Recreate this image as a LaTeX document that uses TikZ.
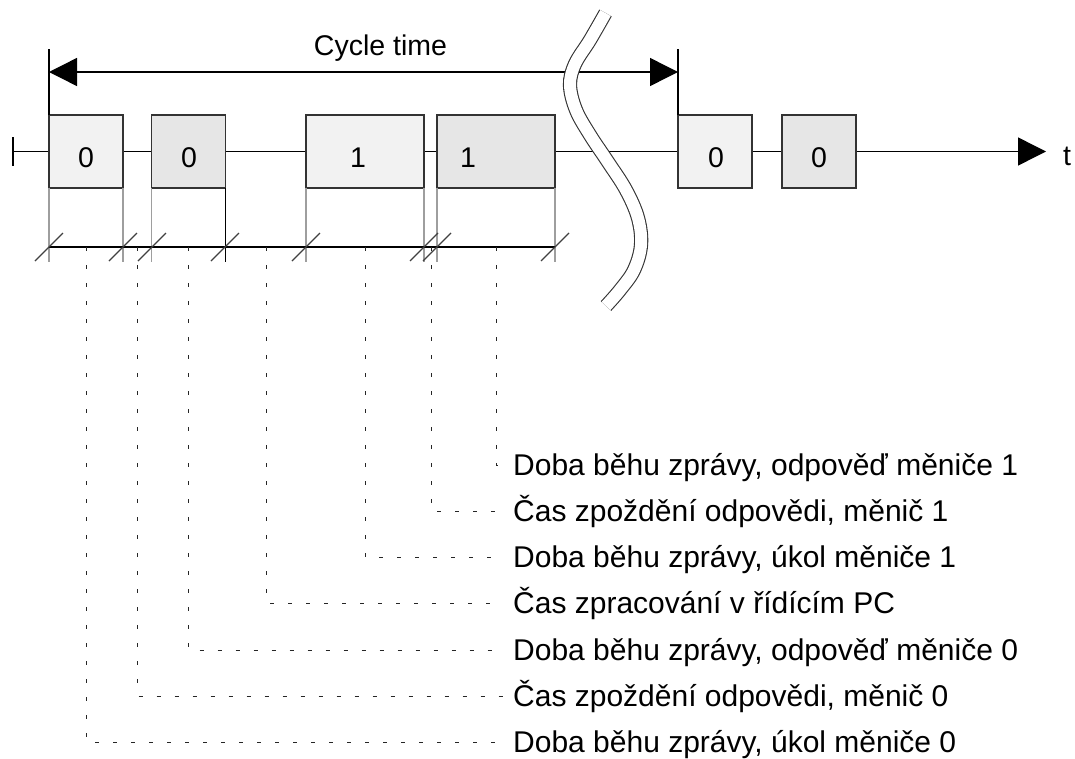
\documentclass[tikz,border=0pt]{standalone}
\usepackage{fontspec}
\setmainfont{Liberation Sans}
\usetikzlibrary{arrows.meta}
\definecolor{boxlight}{HTML}{F2F2F2}
\definecolor{boxdark}{HTML}{E6E6E6}
\definecolor{edge}{HTML}{333333}
\begin{document}
\begin{tikzpicture}[x=1pt,y=-1pt,
  frame/.style={draw=edge, line width=1.4pt, inner sep=0pt, outer sep=0pt, minimum height=73pt},
  short/.style={frame, minimum width=74pt},
  long/.style={frame, minimum width=118pt},
  light/.style={fill=boxlight},
  darker/.style={fill=boxdark},
  txt/.style={font=\fontsize{28.5}{34}\selectfont, inner sep=0pt},
  lbl/.style={font=\fontsize{30}{36}\selectfont, inner sep=0pt, anchor=base west},
  axis/.style={draw=black, line width=1.4pt},
  ext/.style={draw=black!38, line width=1.6pt},
  slash/.style={draw=black!75, line width=1.3pt},
  leader/.style={draw=black!85, line width=1pt, dash pattern=on 4pt off 14pt},
  breakline/.style={draw=black!80, line width=1.1pt, double=white, double distance=12pt},
]
\useasboundingbox (0,0) rectangle (1075,758);

% time axis with start mark and arrow
\coordinate (t0) at (13,151.5);
\coordinate (tend) at (1046,151.5);
\draw[axis,-{Triangle[length=28pt,width=28pt]}] (t0) -- (tend);
\draw[axis] (t0) ++(0,-14.5) -- ++(0,29);
\node[txt, anchor=base west] (tlabel) at (1063,165) {t};

% telegram boxes
\node[short, light]  (b1) at (86,151.5) {};
\node[short, darker] (b2) at (188.5,151.5) {};
\node[long, light]   (b3) at (365,151.5) {};
\node[long, darker]  (b4) at (496,151.5) {};
\node[short, light]  (b5) at (715,151.5) {};
\node[short, darker] (b6) at (819,151.5) {};

\node[txt, anchor=base] (n1) at (86,167) {0};
\node[txt, anchor=base] (n2) at (189,167) {0};
\node[txt, anchor=base] (n3) at (358,167) {1};
\node[txt, anchor=base] (n4) at (468,167) {1};
\node[txt, anchor=base] (n5) at (716,167) {0};
\node[txt, anchor=base] (n6) at (819,167) {0};

% cycle time dimension
\coordinate (cl) at (49,72);
\coordinate (cr) at (678,72);
\draw[axis] (49,49) -- (b1.north west);
\draw[axis] (678,49) -- (b5.north west);
\draw[axis,{Triangle[length=28pt,width=28pt]}-{Triangle[length=28pt,width=28pt]}] (cl) -- (cr);
\node[txt, anchor=base] (cyc) at (380.5,55) {Cycle time};

% extension lines below the boxes
\draw[ext] (b1.south west) -- ++(0,74);
\draw[ext] (b1.south east) -- ++(0,74);
\draw[ext] (b2.south west) -- ++(0,74);
\draw[axis, line width=1.2pt] (b2.south east) -- ++(0,74);
\draw[ext] (b3.south west) -- ++(0,74);
\draw[ext] (b3.south east) -- ++(0,74);
\draw[ext] (b4.south west) -- ++(0,74);
\draw[ext] (b4.south east) -- ++(0,74);

% dimension line with slash marks
\coordinate (d0) at (49,247);
\coordinate (d1) at (123,247);
\coordinate (d2) at (152,247);
\coordinate (d3) at (225,247);
\coordinate (d4) at (306,247);
\coordinate (d5) at (424,247);
\coordinate (d6) at (437,247);
\coordinate (d7) at (555,247);
\draw[axis, line width=1.3pt] (d0) -- (d7);
\foreach \d in {d0,d1,d2,d3,d4,d5,d6,d7}
  \draw[slash] (\d) ++(-14,14) -- ++(28,-28);

% midpoints of the intervals
\coordinate (m1) at (86,247);
\coordinate (m2) at (137.5,247);
\coordinate (m3) at (188.5,247);
\coordinate (m4) at (266,247);
\coordinate (m5) at (365,247);
\coordinate (m6) at (431,247);
\coordinate (m7) at (496,247);

% leader ends
\coordinate (e1) at (503,465);
\coordinate (e2) at (503,511);
\coordinate (e3) at (503,557);
\coordinate (e4) at (503,603);
\coordinate (e5) at (503,650);
\coordinate (e6) at (503,696);
\coordinate (e7) at (503,742);

\draw[leader] (m7) |- (e1);
\draw[leader] (m6) |- (e2);
\draw[leader] (m5) |- (e3);
\draw[leader] (m4) |- (e4);
\draw[leader] (m3) |- (e5);
\draw[leader] (m2) |- (e6);
\draw[leader] (m1) |- (e7);

\node[lbl] (l1) at (513,475.5) {Doba běhu zprávy, odpověď měniče 1};
\node[lbl] (l2) at (513,521.5) {Čas zpoždění odpovědi, měnič 1};
\node[lbl] (l3) at (513,567.5) {Doba běhu zprávy, úkol měniče 1};
\node[lbl] (l4) at (513,613.5) {Čas zpracování v řídícím PC};
\node[lbl] (l5) at (513,660.5) {Doba běhu zprávy, odpověď měniče 0};
\node[lbl] (l6) at (513,706.5) {Čas zpoždění odpovědi, měnič 0};
\node[lbl] (l7) at (513,752.5) {Doba běhu zprávy, úkol měniče 0};

% break symbol across the time axis
\draw[breakline] plot[smooth, tension=0.6] coordinates {
  (605.5,13) (590,40) (575,64) (570,85) (576,110) (590,135) (608,162)
  (626,190) (638,218) (641,245) (634,270) (620,290) (606,306)};
\end{tikzpicture}
\end{document}
